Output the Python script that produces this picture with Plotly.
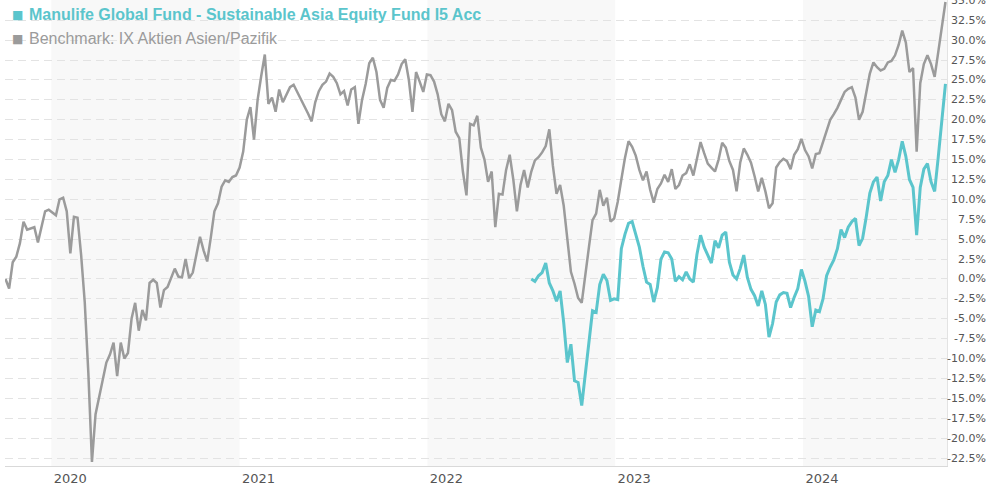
import pandas as pd
import plotly.graph_objects as go

# ---- data (weekly, percent change) ----
start_date = "2019-10-04"
n_weeks = 262
fund_start_index = 146

benchmark_values = [
    0.0, -1.2, 2.1, 2.8, 4.5, 7.2, 6.2, 6.4, 6.5, 4.6,
    6.5, 8.5, 8.7, 8.4, 8.0, 10.0, 10.2, 8.5, 3.2, 7.8,
    7.7, 3.0, -2.9, -11.8, -23.0, -17.0, -14.8, -12.5, -10.5, -9.5,
    -8.0, -12.2, -8.0, -10.0, -9.3, -5.0, -3.0, -6.5, -3.9, -5.2,
    -0.5, -0.1, -0.5, -3.6, -1.4, -1.0, 0.2, 1.3, 0.3, 0.2,
    2.5, 0.1, 0.8, 3.0, 5.3, 3.6, 2.2, 5.2, 8.5, 9.5,
    11.6, 12.4, 12.2, 12.8, 13.0, 14.0, 16.0, 20.0, 21.6, 17.5,
    22.5, 25.5, 28.2, 22.0, 22.8, 21.0, 23.8, 22.2, 23.2, 24.1,
    24.4, 23.5, 22.8, 21.8, 20.8, 19.8, 22.2, 23.6, 24.4, 24.8,
    25.8, 25.4, 24.6, 23.2, 23.6, 21.8, 23.8, 24.1, 19.5, 22.5,
    24.5, 27.1, 27.8, 26.0, 22.5, 21.5, 24.0, 25.0, 24.9, 25.7,
    27.0, 27.6, 25.0, 21.0, 26.0, 24.8, 23.5, 25.7, 25.6, 24.8,
    23.2, 20.7, 19.8, 22.0, 21.2, 18.5, 17.7, 13.5, 10.5, 19.5,
    19.3, 20.5, 16.5, 15.0, 12.2, 13.5, 6.5, 10.7, 10.6, 13.7,
    15.6, 12.5, 8.5, 11.8, 13.7, 11.5, 13.5, 14.9, 15.3, 15.9,
    16.7, 18.8, 14.2, 10.7, 11.8, 9.2, 5.0, 0.9, -0.6, -2.4,
    -3.0, 0.2, 4.0, 7.4, 8.2, 11.2, 9.2, 10.2, 7.2, 7.6,
    9.7, 12.5, 15.2, 17.3, 16.6, 15.5, 13.7, 12.4, 13.5, 11.2,
    9.6, 11.3, 12.0, 13.1, 12.2, 13.8, 11.3, 11.8, 13.0, 13.3,
    14.4, 13.0, 15.3, 17.2, 15.8, 14.5, 14.0, 13.5, 15.0, 17.1,
    16.5, 14.8, 13.7, 11.0, 14.6, 16.4, 15.6, 14.6, 12.9, 11.0,
    12.7, 11.0, 8.9, 9.5, 14.0, 14.7, 15.1, 14.8, 13.8, 15.6,
    16.3, 17.6, 16.2, 15.4, 13.9, 15.7, 15.8, 17.3, 18.8, 20.0,
    20.7, 21.5, 22.5, 23.5, 23.9, 24.1, 22.8, 20.0, 21.0, 23.6,
    25.8, 27.2, 26.6, 26.2, 26.4, 27.2, 27.4, 28.1, 29.4, 31.2,
    29.7, 26.0, 26.5, 16.0, 24.6, 27.0, 28.1, 27.0, 25.4, 28.5,
    31.7, 34.8,
]

fund_values = [
    0.0, -0.3, 0.4, 0.8, 2.0, -0.5, -1.5, -2.8, -1.5, -5.5,
    -10.5, -8.2, -12.8, -13.0, -15.9, -11.8, -8.0, -4.0, -4.2, -0.7,
    0.6, -0.2, -2.7, -2.5, -2.6, 3.8, 5.6, 7.0, 7.2, 5.5,
    4.0, 1.6, -0.4, -0.7, -2.9, -1.1, 2.5, 3.4, 3.3, 2.5,
    -0.3, 0.3, -0.1, 0.9, 0.0, -0.4, 3.1, 5.5, 4.0, 3.0,
    2.0, 4.8, 3.9, 5.5, 5.9, 2.1, 0.5, 0.0, 1.3, 3.0,
    0.2, -1.3, -2.1, -3.4, -1.5, -3.2, -7.3, -5.6, -2.9, -2.0,
    -1.7, -1.8, -3.6, -2.3, -1.2, 1.2, -0.3, -2.2, -6.0, -3.9,
    -4.1, -2.5, 0.4, 1.5, 2.4, 3.8, 6.2, 5.2, 6.5, 7.2,
    7.6, 4.2, 5.1, 7.8, 10.8, 12.2, 12.8, 9.8, 12.2, 13.0,
    15.0, 13.4, 15.0, 17.3, 15.4, 12.5, 11.5, 5.5, 11.5, 13.8,
    14.5, 12.2, 11.0, 15.3, 19.5, 24.5,
]

year_bands = [("2020-01-01", "2021-01-01"), ("2022-01-01", "2023-01-01"), ("2024-01-01", "2025-01-01")]
year_ticks = ["2020-01-01", "2021-01-01", "2022-01-01", "2023-01-01", "2024-01-01"]
year_labels = ["2020", "2021", "2022", "2023", "2024"]
y_ticks = [-22.5 + 2.5 * i for i in range(24)]

fund_name = "Manulife Global Fund - Sustainable Asia Equity Fund I5 Acc"
bench_name = "Benchmark: IX Aktien Asien/Pazifik"

FUND_COLOR = "#5bc5cc"
BENCH_COLOR = "#9b9b9b"

dates = pd.date_range(start_date, periods=n_weeks, freq="7D")
fund_dates = dates[fund_start_index:fund_start_index + len(fund_values)]

fig = go.Figure()
fig.add_trace(go.Scatter(x=dates, y=benchmark_values, mode="lines",
                         line=dict(color=BENCH_COLOR, width=2.5), name=bench_name))
fig.add_trace(go.Scatter(x=fund_dates, y=fund_values, mode="lines",
                         line=dict(color=FUND_COLOR, width=3), name=fund_name))

for a, b in year_bands:
    fig.add_vrect(x0=a, x1=b, fillcolor="#f8f8f8", line_width=0, layer="below")

annotations = []
for v in y_ticks:
    annotations.append(dict(xref="paper", yref="y", x=1.0436, y=v, xanchor="right", yanchor="middle",
                            text=f"{v:.1f}%", showarrow=False,
                            font=dict(family="DejaVu Sans", size=11, color="#555555")))

legend_rows = [
    (fund_name, FUND_COLOR, True, 0.9685),
    (bench_name, BENCH_COLOR, False, 0.9165),
]
for text, color, bold, ypos in legend_rows:
    annotations.append(dict(xref="paper", yref="paper", x=0.0053, y=ypos, xanchor="left", yanchor="middle",
                            text="■", showarrow=False,
                            font=dict(family="DejaVu Sans", size=12, color=color)))
    annotations.append(dict(xref="paper", yref="paper", x=0.0233, y=ypos, xanchor="left", yanchor="middle",
                            text=f"<b>{text}</b>" if bold else text, showarrow=False,
                            font=dict(family="Liberation Sans", size=16, color=color)))

fig.update_layout(
    width=989, height=485,
    margin=dict(l=5, r=42, t=0, b=19),
    paper_bgcolor="white", plot_bgcolor="white",
    showlegend=False,
    annotations=annotations,
    xaxis=dict(
        range=["2019-10-03", "2024-10-07"],
        tickvals=year_ticks, ticktext=year_labels,
        ticklabelshift=19, ticklabelstandoff=0,
        showgrid=False, zeroline=False,
        showline=True, linecolor="#d9d9d9", linewidth=1,
        tickfont=dict(family="DejaVu Sans", size=13, color="#555555"),
        ticks="",
    ),
    yaxis=dict(
        range=[-23.5, 35.05], side="right",
        tickvals=y_ticks, showticklabels=False,
        showgrid=True, gridcolor="#e3e3e3", griddash="8px,5px", gridwidth=1,
        zeroline=False,
        showline=True, linecolor="#e3e3e3", linewidth=1,
        ticks="",
    ),
)

fig.write_html("out.html", config={"displayModeBar": False},
               post_script="document.body.style.margin='0';document.body.style.overflow='hidden';")
